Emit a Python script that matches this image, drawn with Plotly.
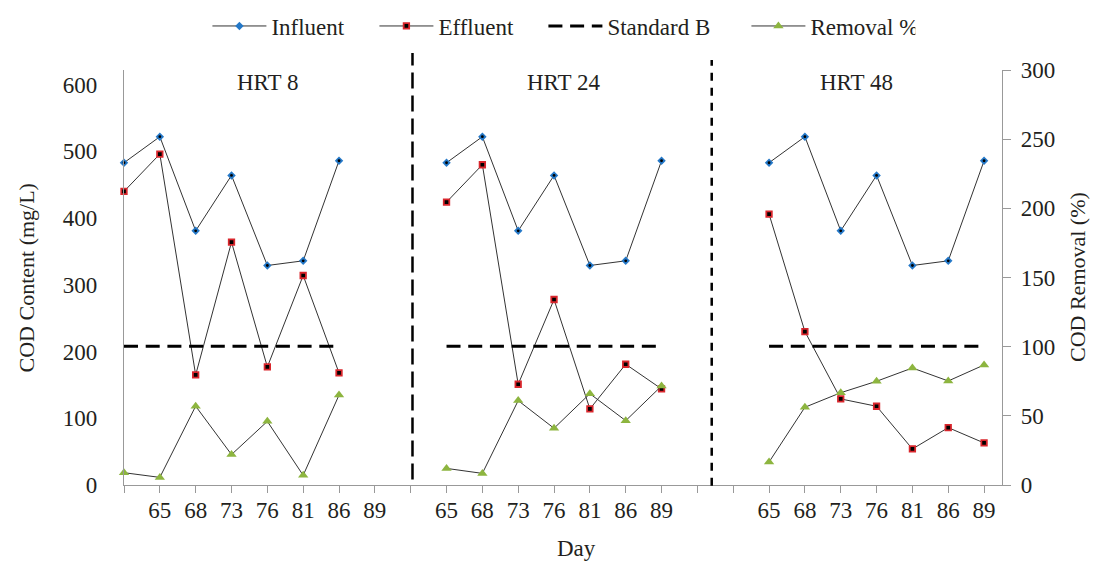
import plotly.graph_objects as go

# ---------------- data ----------------
days = [65, 68, 73, 76, 81, 86, 89]
panel_names = ["HRT 8", "HRT 24", "HRT 48"]
# slot positions on the shared axis where each panel's first point sits
panel_start = [0, 9, 18]
# tick labels for each slot of the shared day axis (25 slots)
slot_labels = [""] + [str(d) for d in days] + [""] + [str(d) for d in days] + ["", ""] + [str(d) for d in days]

influent = [483, 522, 381, 464, 329, 336, 486]
effluent_hrt8 = [440, 496, 165, 364, 177, 314, 168]
effluent_hrt24 = [424, 480, 151, 278, 114, 181, 144]
effluent_hrt48 = [406, 230, 129, 118, 54, 86, 63]
removal_hrt8 = [8.9, 5.5, 57.0, 22.0, 46.0, 7.0, 65.0]
removal_hrt24 = [12.0, 8.4, 61.0, 41.0, 66.0, 46.5, 71.6]
removal_hrt48 = [16.6, 56.2, 66.7, 75.0, 84.6, 75.2, 86.8]
standard_b = 208
divider_slots = [8.05, 16.4]
label_slots = [4.0, 12.25, 20.45]

# ---------------- helpers ----------------
def joined(series_per_panel):
    xs, ys = [], []
    for start, vals in zip(panel_start, series_per_panel):
        xs += [start + i for i in range(len(vals))] + [None]
        ys += list(vals) + [None]
    return xs, ys

FONT = '"Liberation Serif", "Times New Roman", serif'
TXT = "#231F20"
AX = "#999999"
LINE = "#333333"

x_inf, y_inf = joined([influent, influent, influent])
x_eff, y_eff = joined([effluent_hrt8, effluent_hrt24, effluent_hrt48])
x_rem, y_rem = joined([removal_hrt8, removal_hrt24, removal_hrt48])
x_std, y_std = joined([[standard_b] * len(days)] * 3)

fig = go.Figure()
fig.add_trace(go.Scatter(
    x=x_inf, y=y_inf, name="Influent", mode="lines+markers",
    line=dict(color=LINE, width=1),
    marker=dict(symbol="diamond", size=6.5, color="#2478C8", line=dict(width=0)),
    cliponaxis=False, legendwidth=98))
fig.add_trace(go.Scatter(
    x=x_eff, y=y_eff, name="Effluent", mode="lines+markers",
    line=dict(color=LINE, width=1),
    marker=dict(symbol="square", size=5.5, color="#000000", line=dict(color="#D9262C", width=1.8)),
    cliponaxis=False, legendwidth=100))
fig.add_trace(go.Scatter(
    x=x_std, y=y_std, name="Standard B", mode="lines",
    line=dict(color="#000000", width=3, dash="14px,7.7px"),
    cliponaxis=False, legendwidth=134))
fig.add_trace(go.Scatter(
    x=x_rem, y=y_rem, name="Removal %", mode="lines+markers", yaxis="y2",
    line=dict(color=LINE, width=1),
    marker=dict(symbol="triangle-up", size=9, color="#8DB53F", line=dict(width=0)),
    cliponaxis=False, legendwidth=100))
# black centre dot of the influent diamonds
fig.add_trace(go.Scatter(
    x=x_inf, y=y_inf, mode="markers", showlegend=False, hoverinfo="skip",
    marker=dict(symbol="circle", size=2.8, color="#000000"), cliponaxis=False))

shapes = []
for xs, dash, y0, y1 in [(divider_slots[0], "16px,7px", 0.013, 1.041),
                         (divider_slots[1], "8px,7px", -0.002, 1.024)]:
    shapes.append(dict(type="line", xref="x", yref="paper", x0=xs, x1=xs, y0=y0, y1=y1,
                       line=dict(color="#000000", width=2.5, dash=dash)))

annotations = []
for name, xs in zip(panel_names, label_slots):
    annotations.append(dict(text=name, x=xs, y=0.969, xref="x", yref="paper", showarrow=False,
                            xanchor="center", yanchor="middle",
                            font=dict(family=FONT, size=23, color=TXT)))
annotations.append(dict(text="COD Content (mg/L)", x=-0.1105, y=0.5, xref="paper", yref="paper",
                        xanchor="center", yanchor="middle",
                        textangle=-90, showarrow=False, font=dict(family=FONT, size=22, color=TXT)))
annotations.append(dict(text="COD Removal (%)", x=1.086, y=0.5, xref="paper", yref="paper",
                        xanchor="center", yanchor="middle",
                        textangle=-90, showarrow=False, font=dict(family=FONT, size=22, color=TXT)))
annotations.append(dict(text="Day", x=0.515, y=-0.154, xref="paper", yref="paper",
                        xanchor="center", yanchor="middle",
                        showarrow=False, font=dict(family=FONT, size=23, color=TXT)))

# the page body adds an 8px offset, so the figure is sized to end at the window edge
fig.update_layout(
    template="none",
    width=1090, height=556,
    margin=dict(l=116, r=96, t=62, b=79, autoexpand=False),
    paper_bgcolor="white", plot_bgcolor="white",
    font=dict(family=FONT, size=23, color=TXT),
    showlegend=True,
    legend=dict(orientation="h", x=0.095, xanchor="left", y=1.106, yanchor="middle",
                itemwidth=54, font=dict(family=FONT, size=23, color=TXT),
                bgcolor="rgba(0,0,0,0)", borderwidth=0, tracegroupgap=0),
    xaxis=dict(range=[0, 24.5], tickmode="array", tickvals=list(range(len(slot_labels))),
               ticktext=slot_labels, ticks="outside", ticklen=7, tickcolor=AX, tickwidth=1,
               showline=True, linecolor=AX, linewidth=1.3, showgrid=False, zeroline=False,
               automargin=False,
               ticklabelstandoff=-3, tickfont=dict(family=FONT, size=23, color=TXT)),
    yaxis=dict(range=[0, 622], tickmode="array", tickvals=[0, 100, 200, 300, 400, 500, 600],
               ticks="", showline=True, linecolor=AX, linewidth=1.3, showgrid=False,
               zeroline=False, automargin=False, ticklabelstandoff=21,
               tickfont=dict(family=FONT, size=23, color=TXT)),
    yaxis2=dict(range=[0, 300], overlaying="y", side="right", tickmode="linear", tick0=0, dtick=50,
                ticks="outside", ticklen=8, tickcolor=AX, tickwidth=1, showline=True, linecolor=AX,
                linewidth=1.3, showgrid=False, zeroline=False, automargin=False, ticklabelstandoff=5,
                tickfont=dict(family=FONT, size=23, color=TXT)),
    shapes=shapes, annotations=annotations,
)

fig.write_html("out.html")
